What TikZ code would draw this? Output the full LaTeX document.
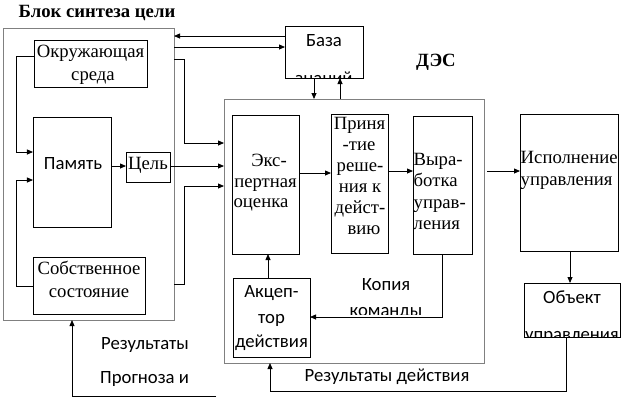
\documentclass[tikz,border=0pt]{standalone}
\usepackage{fontspec}
\newfontfamily\serf{LiberationSerif}[Extension=.ttf, UprightFont=*-Regular, BoldFont=*-Bold]
\newfontfamily\sansf{Carlito}
\usetikzlibrary{arrows.meta}
\definecolor{boxgray}{RGB}{128,128,128}
\tikzset{
  box/.style={draw, line width=0.8bp, inner sep=0pt, outer sep=0pt},
  graybox/.style={draw=boxgray, line width=0.8bp, inner sep=0pt, outer sep=0pt},
  conn/.style={line width=0.8bp},
  arr/.style={conn, -{Triangle[length=6bp,width=5bp]}},
  sr/.style={font=\serf\fontsize{18.7bp}{21bp}\selectfont, inner sep=0pt, anchor=base},
  srl/.style={sr, anchor=base west},
  ss/.style={font=\sansf\fontsize{18.7bp}{21bp}\selectfont, inner sep=0pt, anchor=base},
  ssl/.style={ss, anchor=base west},
  bold/.style={font=\serf\bfseries\fontsize{18.7bp}{21bp}\selectfont, inner sep=0pt, anchor=base}
}
\begin{document}
\begin{tikzpicture}[x=1bp,y=-1bp]
\useasboundingbox (0,0) rectangle (623,400);
% titles
\node[bold] (title) at (97,17) {Блок синтеза цели};
\node[bold] (destitle) at (436,66) {ДЭС};
% big gray boxes
\node[graybox, minimum width=171bp, minimum height=292bp] (blok) at (88.5,174) {};
\node[graybox, minimum width=260bp, minimum height=264bp] (des) at (354,231) {};
% boxes
\node[box, minimum width=113bp, minimum height=47bp] (okr) at (90.5,63.5) {};
\node[box, minimum width=78bp, minimum height=110bp] (pam) at (72,172) {};
\node[box, minimum width=44bp, minimum height=30bp] (cel) at (148,167) {};
\node[box, minimum width=112bp, minimum height=57bp] (sob) at (89,285.5) {};
\node[box, minimum width=78bp, minimum height=52bp] (baza) at (324,52) {};
\node[box, minimum width=67bp, minimum height=139bp] (eksp) at (265.5,184.5) {};
\node[box, minimum width=57bp, minimum height=139bp] (prin) at (359.5,183.5) {};
\node[box, minimum width=59bp, minimum height=138bp] (vyr) at (442.5,185) {};
\node[box, minimum width=77bp, minimum height=79bp] (akc) at (271.5,317.5) {};
\node[box, minimum width=98bp, minimum height=137bp] (isp) at (569,182.5) {};
\node[box, minimum width=96bp, minimum height=54bp] (obj) at (572,310) {};
% texts
\node[sr] (t-okr1) at (90.5,57) {Окружающая};
\node[sr] (t-okr2) at (93,80) {среда};
\node[ss] (t-pam) at (73,169) {Память};
\node[sr] (t-cel) at (148,169) {Цель};
\node[sr] (t-sob1) at (89,274) {Собственное};
\node[sr] (t-sob2) at (89,297) {состояние};
\node[ss] (t-baza1) at (324,46) {База};
\begin{scope}
  \clip (285,26) rectangle (363,78);
  \node[ss] (t-baza2) at (324,84) {знаний};
\end{scope}
\node[sr] (t-eksp1) at (269,166) {Экс-};
\node[sr] (t-eksp2) at (265.5,187) {пертная};
\node[sr] (t-eksp3) at (261,207) {оценка};
\node[sr] (t-prin1) at (359.5,129) {Приня};
\node[sr] (t-prin2) at (359,150) {-тие};
\node[sr] (t-prin3) at (360,171) {реше-};
\node[sr] (t-prin4) at (360,192) {ния к};
\node[sr] (t-prin5) at (360,213) {дейст-};
\node[sr] (t-prin6) at (364,234) {вию};
\node[srl] (t-vyr1) at (413.5,165) {Выра-};
\node[srl] (t-vyr2) at (413.5,186) {ботка};
\node[srl] (t-vyr3) at (413.5,208) {управ-};
\node[srl] (t-vyr4) at (413.5,229) {ления};
\node[ss] (t-akc1) at (271.5,297) {Акцеп-};
\node[ss] (t-akc2) at (271.5,323) {тор};
\node[ss] (t-akc3) at (271.5,347) {действия};
\node[ss] (t-kop1) at (386,290) {Копия};
\begin{scope}
  \clip (330,295) rectangle (440,314);
  \node[ss] (t-kop2) at (386,316) {команды};
\end{scope}
\node[srl] (t-isp1) at (520.5,163) {Исполнение};
\node[srl] (t-isp2) at (520.5,185) {управления};
\node[ss] (t-obj1) at (572,303) {Объект};
\begin{scope}
  \clip (524,283) rectangle (620,337);
  \node[ss] (t-obj2) at (572,340) {управления};
\end{scope}
\node[ss] (t-res1) at (145,349) {Результаты};
\node[ssl] (t-res2) at (100,383) {Прогноза и};
\node[ss] (t-res3) at (387,381) {Результаты действия};
% connectors, left block
\draw[arr] (okr.west |- 0,56) -- (16,56) -- (16,152) -- (pam.west |- 0,152);
\draw[arr] (sob.west |- 0,286) -- (16,286) -- (16,180) -- (pam.west |- 0,180);
\draw[arr] (pam.east |- 0,166) -- (cel.west |- 0,166);
% block <-> base
\draw[arr] (baza.west |- 0,36) -- (blok.east |- 0,36);
\draw[arr] (blok.east |- 0,47) -- (baza.west |- 0,47);
% block -> DES
\draw[arr] (blok.east |- 0,59) -- (184,59) -- (184,143) -- (des.west |- 0,143);
\draw[arr] (cel.east |- 0,166) -- (des.west |- 0,166);
\draw[arr] (blok.east |- 0,284) -- (184,284) -- (184,186) -- (des.west |- 0,186);
% base <-> DES
\draw[arr] (baza.south -| 314,0) -- (des.north -| 314,0);
\draw[arr] (des.north -| 340,0) -- (baza.south -| 340,0);
% inside DES
\draw[arr] (eksp.east |- 0,173) -- (prin.west |- 0,173);
\draw[arr] (prin.east |- 0,171) -- (vyr.west |- 0,171);
\draw[arr] (akc.north -| 268,0) -- (eksp.south -| 268,0);
\draw[arr] (vyr.south -| 442,0) -- (442,317) -- (akc.east |- 0,317);
% to execution
\draw[arr] ([xshift=3bp]des.east |- 0,171) -- (isp.west |- 0,171);
\draw[arr] (isp.south -| 570,0) -- (obj.north -| 570,0);
% feedback
\draw[arr] (obj.south -| 566,0) -- (566,391) -- (270,391) -- (des.south -| 270,0);
\draw[arr] (216,396) -- (72,396) -- (blok.south -| 72,0);
\end{tikzpicture}
\end{document}
